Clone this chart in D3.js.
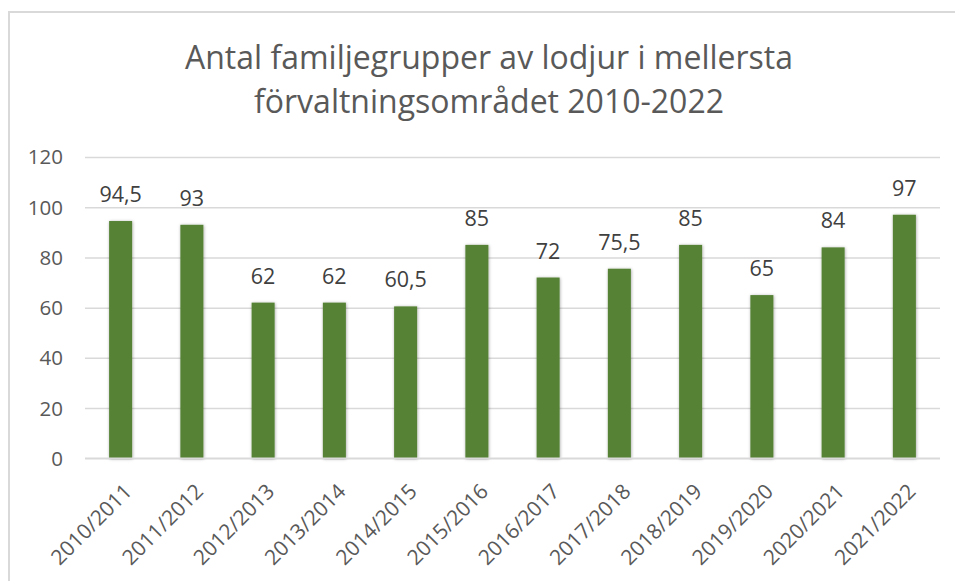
<!DOCTYPE html>
<html>
<head>
<meta charset="utf-8">
<script src="https://cdn.jsdelivr.net/npm/d3@7"></script>
<style>
  html, body { margin: 0; padding: 0; background: #ffffff; }
  svg { display: block; }
  text { font-family: "Open Sans", "Noto Sans", sans-serif; }
</style>
</head>
<body>
<svg id="chart" width="955" height="581"></svg>
<script>
const categories = ["2010/2011","2011/2012","2012/2013","2013/2014","2014/2015","2015/2016","2016/2017","2017/2018","2018/2019","2019/2020","2020/2021","2021/2022"];
const values = [94.5, 93, 62, 62, 60.5, 85, 72, 75.5, 85, 65, 84, 97];
const yTicks = [0, 20, 40, 60, 80, 100, 120];
const titleLines = ["Antal familjegrupper av lodjur i mellersta", "förvaltningsområdet 2010-2022"];

const svg = d3.select("#chart");
const W = 955, H = 581;
const margin = {left: 85, right: 15, top: 157, bottom: 122.7};

// chart frame
svg.append("rect")
  .attr("x", 9).attr("y", 12)
  .attr("width", 960).attr("height", 590)
  .attr("fill", "#ffffff")
  .attr("stroke", "#d9d9d9").attr("stroke-width", 2);

const defs = svg.append("defs");
const f = defs.append("filter").attr("id", "shadow")
  .attr("x", "-30%").attr("y", "-10%").attr("width", "160%").attr("height", "120%");
f.append("feDropShadow").attr("dx", 0.5).attr("dy", 0.5).attr("stdDeviation", 1.6)
  .attr("flood-color", "#000").attr("flood-opacity", 0.35);

const x = d3.scaleBand()
  .domain(categories)
  .range([margin.left, W - margin.right])
  .paddingInner(0.677)
  .paddingOuter(0.3385);

const y = d3.scaleLinear()
  .domain([0, 120])
  .range([H - margin.bottom, margin.top]);

// title
const title = svg.append("text")
  .attr("x", 489).attr("y", 69)
  .attr("text-anchor", "middle")
  .attr("fill", "#595959")
  .style("font-size", "32px");
titleLines.forEach((t, i) => {
  title.append("tspan").attr("x", 489).attr("y", 69 + i * 44).text(t);
});

// gridlines + y labels
const yAxis = d3.axisLeft(y).tickValues(yTicks)
  .tickSize(-(W - margin.right - margin.left))
  .tickPadding(22)
  .tickFormat(d3.format("d"));
const gy = svg.append("g")
  .attr("transform", `translate(${margin.left},0)`)
  .call(yAxis);
gy.select(".domain").remove();
gy.selectAll(".tick line").attr("stroke", "#d9d9d9").attr("stroke-width", 1.5);
gy.selectAll(".tick text")
  .attr("fill", "#595959")
  .style("font-size", "20.5px")
  .attr("dy", "0.34em");

// bars
svg.append("g").selectAll("rect")
  .data(values)
  .join("rect")
  .attr("x", (d, i) => x(categories[i]))
  .attr("y", d => y(d))
  .attr("width", x.bandwidth())
  .attr("height", d => y(0) - y(d))
  .attr("fill", "#548235")
  .attr("filter", "url(#shadow)");

// data labels
const fmt = d => String(d).replace(".", ",");
svg.append("g").selectAll("text")
  .data(values)
  .join("text")
  .attr("x", (d, i) => x(categories[i]) + x.bandwidth() / 2)
  .attr("y", d => y(d) - 19)
  .attr("text-anchor", "middle")
  .attr("fill", "#404040")
  .style("font-size", "21.5px")
  .text(fmt);

// x axis
const xAxis = d3.axisBottom(x).tickSize(0).tickPadding(0);
const gx = svg.append("g")
  .attr("transform", `translate(0,${y(0)})`)
  .call(xAxis);
gx.select(".domain").attr("stroke", "#d9d9d9").attr("stroke-width", 1.5)
  .attr("d", `M${margin.left},0H${W - margin.right}`);
gx.selectAll(".tick text")
  .attr("fill", "#595959")
  .style("font-size", "21px")
  .attr("text-anchor", "end")
  .attr("x", 0).attr("y", 0)
  .attr("dy", "0.71em")
  .attr("transform", "translate(2,24) rotate(-45)");
</script>
</body>
</html>
